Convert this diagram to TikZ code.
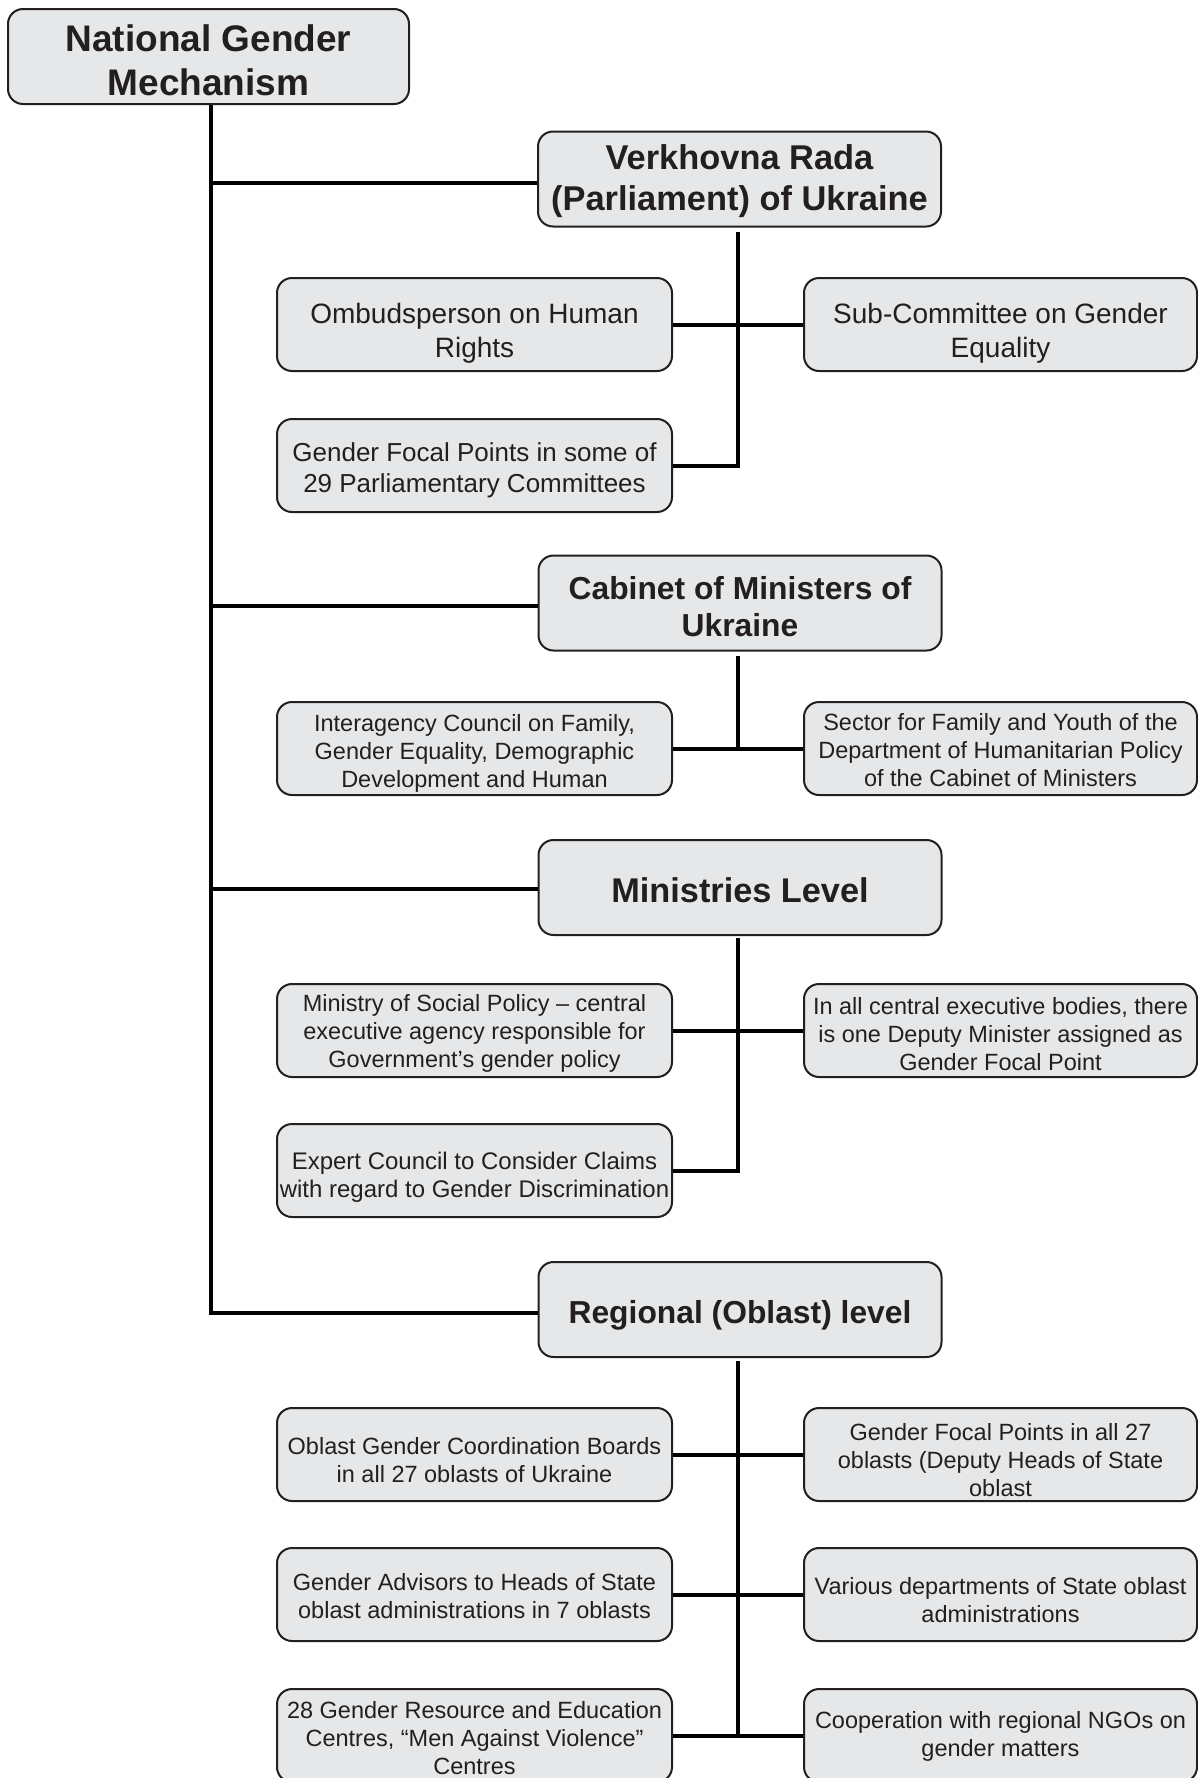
\documentclass[tikz,border=0pt]{standalone}
\usepackage{fontspec}
\setmainfont{Liberation Sans}
\definecolor{boxfill}{HTML}{E6E7E8}
\definecolor{ink}{HTML}{231F20}
\tikzset{
  box/.style={draw=ink, line width=2pt, fill=boxfill, rounded corners=15pt, inner sep=0pt, anchor=center},
  txt/.style={align=center, text=ink, inner sep=0pt, anchor=center},
  topbox/.style={box, minimum width=401pt, minimum height=95pt},
  lvl/.style={box, minimum width=403pt, minimum height=95pt},
  subbox/.style={box, minimum width=395pt, minimum height=93pt},
  rbox/.style={box, minimum width=393pt, minimum height=93pt},
  small/.style={txt, font=\fontsize{23.5}{28}\selectfont},
  conn/.style={draw=black, line width=4pt}
}
\begin{document}
\begin{tikzpicture}[x=1pt, y=-1pt]
\useasboundingbox (0,0) rectangle (1198,1778);

% ---------- boxes ----------
\node[topbox] (nat) at (208.5,56.5) {};
\node[lvl] (vr) at (739.5,179) {};
\node[lvl] (cab) at (740,603) {};
\node[lvl] (min) at (740,887.5) {};
\node[lvl] (reg) at (740,1309.5) {};

\node[subbox] (omb) at (474.5,324.5) {};
\node[rbox] (subc) at (1000.5,324.5) {};
\node[subbox] (gfp) at (474.5,465.5) {};
\node[subbox] (inter) at (474.5,748.5) {};
\node[rbox] (sector) at (1000.5,748.5) {};
\node[subbox] (msp) at (474.5,1030.5) {};
\node[rbox] (ceb) at (1000.5,1030.5) {};
\node[subbox] (exp) at (474.5,1170.5) {};
\node[subbox] (ogcb) at (474.5,1454.5) {};
\node[rbox] (gfp27) at (1000.5,1454.5) {};
\node[subbox] (adv) at (474.5,1594.5) {};
\node[rbox] (dep) at (1000.5,1594.5) {};
\node[subbox] (grc) at (474.5,1735.5) {};
\node[rbox] (ngo) at (1000.5,1735.5) {};

% ---------- texts ----------
\node[txt, font=\bfseries\fontsize{37}{44}\selectfont] (nat-t) at ([yshift=-3.4pt]nat.center) {National Gender\\Mechanism};
\node[txt, font=\bfseries\fontsize{34.4}{41}\selectfont] (vr-t) at ([yshift=-2.5pt]vr.center) {Verkhovna Rada\\(Parliament) of Ukraine};
\node[txt, font=\bfseries\fontsize{31.8}{37}\selectfont] (cab-t) at ([yshift=-3.4pt]cab.center) {Cabinet of Ministers of\\Ukraine};
\node[txt, font=\bfseries\fontsize{34.3}{41}\selectfont] (min-t) at ([yshift=-2.5pt]min.center) {Ministries Level};
\node[txt, font=\bfseries\fontsize{31.8}{37}\selectfont] (reg-t) at ([yshift=-6pt]reg.center) {Regional (Oblast) level};

\node[txt, font=\fontsize{28}{34}\selectfont] (omb-t) at ([yshift=-8.5pt]omb.center) {Ombudsperson on Human\\Rights};
\node[txt, font=\fontsize{28}{34}\selectfont] (subc-t) at ([yshift=-8.5pt]subc.center) {Sub-Committee on Gender\\Equality};
\node[txt, font=\fontsize{26}{30.6}\selectfont] (gfp-t) at ([yshift=-4.5pt]gfp.center) {Gender Focal Points in some of\\29 Parliamentary Committees};

\node[small] (inter-t) at ([yshift=-5pt]inter.center) {Interagency Council on Family,\\Gender Equality, Demographic\\Development and Human};
\node[small] (sector-t) at ([yshift=-1.5pt]sector.center) {Sector for Family and Youth of the\\Department of Humanitarian Policy\\of the Cabinet of Ministers};

\node[small] (msp-t) at ([yshift=-3.4pt]msp.center) {Ministry of Social Policy -- central\\executive agency responsible for\\Government’s gender policy};
\node[small] (ceb-t) at ([yshift=-4pt]ceb.center) {In all central executive bodies, there\\is one Deputy Minister assigned as\\Gender Focal Point};
\node[txt, font=\fontsize{24}{28.3}\selectfont] (exp-t) at ([yshift=-6.5pt]exp.center) {Expert Council to Consider Claims\\with regard to Gender Discrimination};

\node[small] (ogcb-t) at ([yshift=-5.5pt]ogcb.center) {Oblast Gender Coordination Boards\\in all 27 oblasts of Ukraine};
\node[small] (gfp27-t) at ([yshift=-5.5pt]gfp27.center) {Gender Focal Points in all 27\\oblasts (Deputy Heads of State\\oblast};
\node[small] (adv-t) at ([yshift=-2pt]adv.center) {Gender Advisors to Heads of State\\oblast administrations in 7 oblasts};
\node[small] (dep-t) at ([yshift=-6pt]dep.center) {Various departments of State oblast\\administrations};
\node[small] (grc-t) at ([yshift=-3pt]grc.center) {28 Gender Resource and Education\\Centres, “Men Against Violence”\\Centres};
\node[small] (ngo-t) at ([yshift=-1pt]ngo.center) {Cooperation with regional NGOs on\\gender matters};

% ---------- trunk ----------
\coordinate (tr) at ([xshift=2.5pt]nat.south);
\draw[conn] (tr) |- ([yshift=-3.5pt]reg.west);
\draw[conn] ([yshift=-3.5pt]vr.west) -- ([yshift=-3.5pt]vr.west -| tr);
\draw[conn] ([yshift=-3pt]cab.west) -- ([yshift=-3pt]cab.west -| tr);
\draw[conn] ([yshift=-1.5pt]min.west) -- ([yshift=-1.5pt]min.west -| tr);

% parliament branch
\draw[conn] ([xshift=-1.5pt,yshift=-4pt]vr.south) |- (gfp.east);
\draw[conn] (omb.east) -- (subc.west);

% cabinet branch
\draw[conn] ([xshift=-2pt,yshift=-4pt]cab.south) -- ([xshift=-2pt]cab.south |- inter.east);
\draw[conn] (inter.east) -- (sector.west);

% ministries branch
\draw[conn] ([xshift=-2pt,yshift=-2pt]min.south) |- (exp.east);
\draw[conn] (msp.east) -- (ceb.west);

% regional branch
\draw[conn] ([xshift=-2pt,yshift=-3pt]reg.south) -- ([xshift=-2pt]reg.south |- grc.east);
\draw[conn] (ogcb.east) -- (gfp27.west);
\draw[conn] (adv.east) -- (dep.west);
\draw[conn] (grc.east) -- (ngo.west);
\end{tikzpicture}
\end{document}
